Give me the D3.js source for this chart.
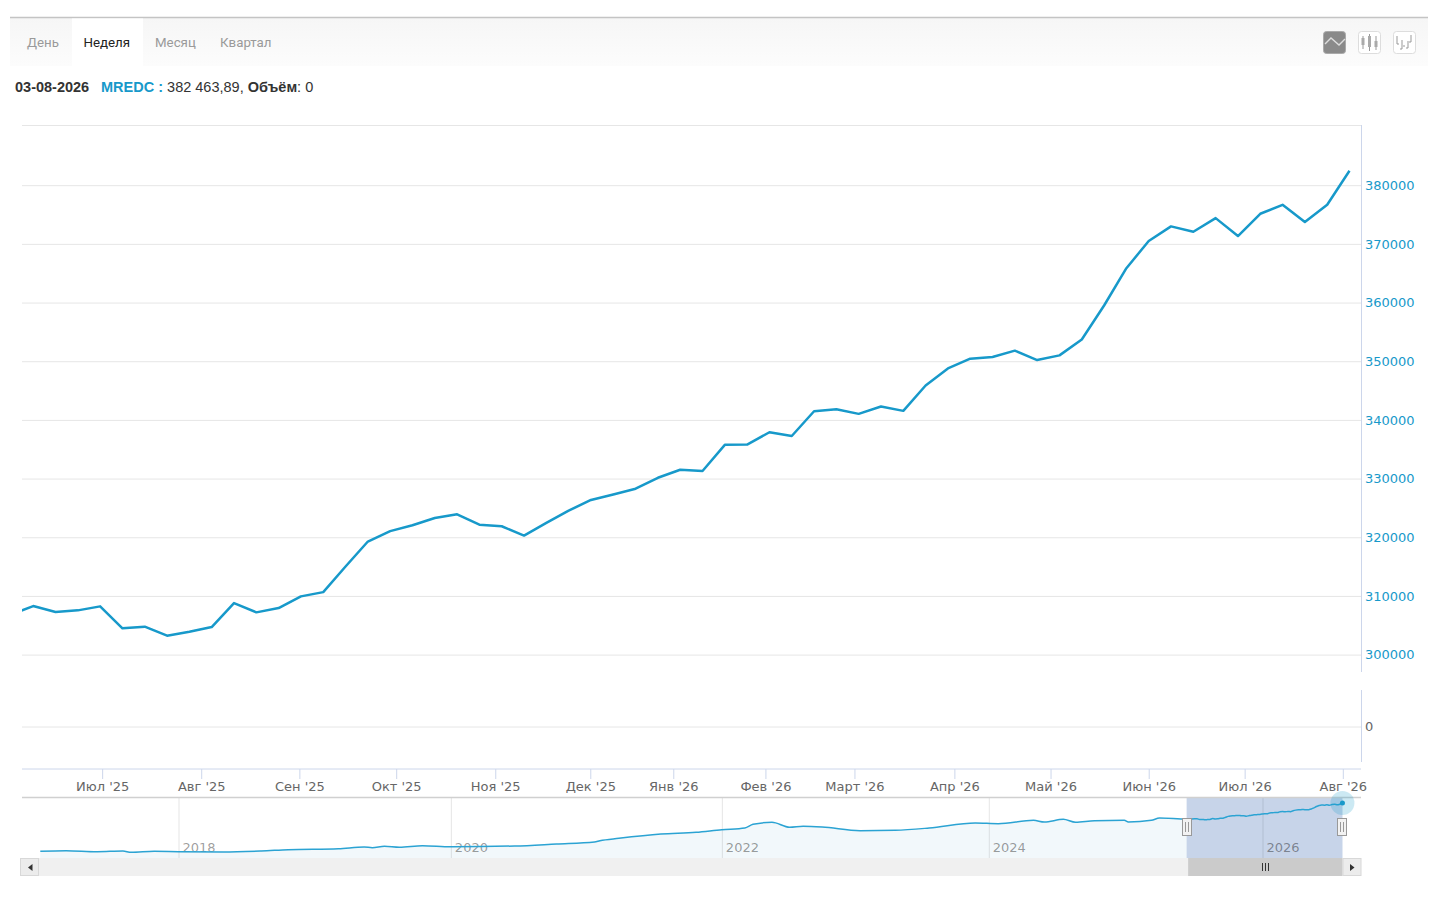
<!DOCTYPE html>
<html>
<head>
<meta charset="utf-8">
<script src="https://cdn.jsdelivr.net/npm/d3@7"></script>
<style>
  html, body { margin: 0; padding: 0; background: #fff; }
  svg { display: block; }
  .axis-text text { font-family: "DejaVu Sans", sans-serif; font-size: 13px; }
  .domain { display: none; }
</style>
</head>
<body>
<svg id="chart" width="1440" height="897"></svg>
<script>
// weekly closes, last point is 03-08-2026
const weeklyValues = [
  306800, 308270, 307250, 307540, 308220, 304480, 304760, 303230, 303910, 304700,
  308780, 307200, 307930, 309920, 310650, 315020, 319270, 321050, 322040, 323290,
  323910, 322150, 321870, 320280, 322440, 324530, 326350, 327300, 328270, 330140,
  331500, 331280, 335750, 335800, 337900, 337260, 341480, 341820, 341030, 342280,
  341540, 345870, 348780, 350430, 350720, 351800, 350200, 351000, 353700, 359500,
  365850, 370490, 372980, 372070, 374390, 371340, 375130, 376660, 373720, 376660,
  382463.89
];

const yTicks = [300000, 310000, 320000, 330000, 340000, 350000, 360000, 370000, 380000];
const volumeTicks = [0];

// month labels and where they sit, in weeks along the series
const monthLabels = ["Июл '25", "Авг '25", "Сен '25", "Окт '25", "Ноя '25", "Дек '25", "Янв '26",
  "Фев '26", "Март '26", "Апр '26", "Май '26", "Июн '26", "Июл '26", "Авг '26"];
const monthWeeks = [4.09, 8.53, 12.93, 17.27, 21.71, 25.97, 29.69, 33.82, 37.81, 42.29, 46.6, 51.0, 55.3, 59.7];

// navigator history before the selected window
const navYears = [2016.98, 2017.17, 2017.40, 2017.59, 2017.65, 2017.82, 2018.00, 2018.33, 2018.61, 2018.81,
  2019.18, 2019.37, 2019.43, 2019.52, 2019.63, 2019.80, 2020.01, 2020.48, 2020.79, 2021.07,
  2021.11, 2021.25, 2021.56, 2021.82, 2022.01, 2022.18, 2022.24, 2022.38, 2022.51, 2022.61,
  2022.75, 2023.03, 2023.29, 2023.54, 2023.88, 2024.05, 2024.31, 2024.39, 2024.53, 2024.62,
  2024.76, 2024.98, 2025.01, 2025.18, 2025.24];
const navValues = [154020, 156860, 152130, 155440, 149290, 154020, 152130, 150710, 155440, 161590,
  166320, 174360, 171050, 177670, 172940, 180510, 175780, 179090, 188550, 198010,
  204160, 215510, 235850, 243890, 256190, 264230, 281730, 291190, 267540, 272270,
  268960, 251460, 253350, 264230, 287880, 284570, 300650, 292610, 305380, 291190,
  298760, 300650, 292610, 300650, 311530];
const navYearLabels = ["2018", "2020", "2022", "2024", "2026"];
const navYearTicks = [2018, 2020.01, 2022.01, 2023.98, 2026];
const navSelection = [2025.44, 2026.59];

const tabs = ["День", "Неделя", "Месяц", "Квартал"];

const blue = "#1799ca";
const left = 22, right = 1361;

const svg = d3.select("#chart");
const defs = svg.append("defs");

const headGrad = defs.append("linearGradient").attr("id", "headGrad").attr("x1", 0).attr("x2", 0).attr("y1", 0).attr("y2", 1);
headGrad.append("stop").attr("offset", "0%").attr("stop-color", "#f6f6f6");
headGrad.append("stop").attr("offset", "100%").attr("stop-color", "#fcfcfc");

defs.append("clipPath").attr("id", "plotClip").append("rect")
  .attr("x", left).attr("y", 125).attr("width", right - left).attr("height", 560);

// header bar with tabs
svg.append("rect").attr("x", 10).attr("y", 18).attr("width", 1418).attr("height", 48).attr("fill", "url(#headGrad)");
svg.append("line").attr("x1", 10).attr("x2", 1428).attr("y1", 17.5).attr("y2", 17.5).attr("stroke", "#c4c4c4").attr("stroke-width", 1.4);
svg.append("rect").attr("x", 72).attr("y", 18.5).attr("width", 71).attr("height", 48).attr("fill", "#fff");

const tabX = [27, 83.5, 155, 220];
svg.selectAll(".tab").data(tabs).join("text")
  .attr("class", "tab")
  .attr("x", (d, i) => tabX[i])
  .attr("y", 47)
  .attr("font-family", "Roboto, sans-serif")
  .attr("font-size", 13.3)
  .attr("fill", d => d === "Неделя" ? "#222" : "#9a9a9a")
  .text(d => d);

// chart type buttons
const btns = [1323, 1358, 1393];
btns.forEach((bx, i) => {
  svg.append("rect").attr("x", bx + 0.5).attr("y", 31.5).attr("width", 22).attr("height", 22).attr("rx", 3)
    .attr("fill", i === 0 ? "#8a8a8a" : "#fff").attr("stroke", i === 0 ? "#aaa" : "#ddd");
});
svg.append("path").attr("d", "M1325 44 L1331 38 L1339 45 L1345 39").attr("fill", "none").attr("stroke", "#ddd").attr("stroke-width", 1.4);
[[1363, 36, 49, 38, 45], [1369.5, 34, 51, 36, 47], [1376, 36, 50, 41, 47]].forEach(c => {
  svg.append("line").attr("x1", c[0]).attr("x2", c[0]).attr("y1", c[1]).attr("y2", c[2]).attr("stroke", "#999");
  svg.append("rect").attr("x", c[0] - 1.5).attr("y", c[3]).attr("width", 3).attr("height", c[4] - c[3]).attr("fill", "#aaa");
});
svg.append("path").attr("d", "M1397 36 V44 H1399 M1402 40 V49 H1400 M1403 46 H1405 M1408 41 V48 H1406 M1411 35 V42 H1409")
  .attr("fill", "none").attr("stroke", "#999");

// info line
const info = svg.append("text").attr("x", 15).attr("y", 92)
  .attr("font-family", "'Liberation Sans', Arial, sans-serif").attr("font-size", 14.5).attr("fill", "#333");
info.append("tspan").attr("font-weight", "bold").text("03-08-2026");
info.append("tspan").attr("x", 101).attr("font-weight", "bold").attr("fill", blue).text("MREDC : ");
info.append("tspan").text("382 463,89, ");
info.append("tspan").attr("font-weight", "bold").text("Объём");
info.append("tspan").text(": 0");

// scales
const x = d3.scaleLinear().domain([0, weeklyValues.length - 1]).range([10.9, 1349.5]);
const y = d3.scaleLinear().domain([300000, 380000]).range([654.6, 185.2]);
const yVolume = d3.scaleLinear().domain([-1, 1]).range([763.5, 689.5]);

// top border of plot
svg.append("line").attr("x1", left).attr("x2", right).attr("y1", 125.5).attr("y2", 125.5).attr("stroke", "#e6e6e6");

// y axis with grid
const yAxis = svg.append("g").attr("class", "axis-text")
  .attr("transform", `translate(${right},0)`)
  .call(d3.axisRight(y).tickValues(yTicks).tickSize(-(right - left)).tickPadding(4).tickFormat(d3.format("d")));
yAxis.selectAll("line").attr("stroke", "#e6e6e6");
yAxis.selectAll("text").attr("fill", blue);

const volAxis = svg.append("g").attr("class", "axis-text")
  .attr("transform", `translate(${right},0)`)
  .call(d3.axisRight(yVolume).tickValues(volumeTicks).tickSize(-(right - left)).tickPadding(4).tickFormat(d3.format("d")));
volAxis.selectAll("line").attr("stroke", "#e6e6e6");
volAxis.selectAll("text").attr("fill", "#666");

// right side axis lines
svg.append("line").attr("x1", right + 0.5).attr("x2", right + 0.5).attr("y1", 125).attr("y2", 672).attr("stroke", "#ccd6eb");
svg.append("line").attr("x1", right + 0.5).attr("x2", right + 0.5).attr("y1", 690).attr("y2", 762).attr("stroke", "#ccd6eb");

// main line
const line = d3.line().x((d, i) => x(i)).y(d => y(d));
svg.append("path").datum(weeklyValues)
  .attr("clip-path", "url(#plotClip)")
  .attr("fill", "none").attr("stroke", blue).attr("stroke-width", 2.5).attr("stroke-linejoin", "round")
  .attr("d", line);

// x axis with month ticks
svg.append("line").attr("x1", left).attr("x2", right).attr("y1", 769).attr("y2", 769).attr("stroke", "#ccd6eb");
const xAxis = svg.append("g").attr("class", "axis-text")
  .attr("transform", "translate(0,769)")
  .call(d3.axisBottom(x).tickValues(monthWeeks).tickSize(10).tickPadding(3).tickFormat((d, i) => monthLabels[i]));
xAxis.selectAll("line").attr("stroke", "#ccd6eb");
xAxis.selectAll("text").attr("fill", "#666");

// navigator
const navTop = 798, navBottom = 858;
const navX = d3.scaleLinear().domain([2018, 2026]).range([178.5, 1262.5]);
const navY = d3.scaleLinear().domain([306800, 382463.89]).range([819, 803]);

// selected window is the same weekly series, one week apart in year units
const navSeries = navYears.map((yr, i) => [yr, navValues[i]])
  .concat(weeklyValues.map((v, i) => [navSelection[1] - (weeklyValues.length - 1 - i) * 7 / 365.25, v]));

svg.append("path").datum(navSeries)
  .attr("fill", "#f2f8fb")
  .attr("d", d3.area().curve(d3.curveMonotoneX).x(d => navX(d[0])).y0(navBottom).y1(d => navY(d[1])));

svg.append("rect")
  .attr("x", navX(navSelection[0])).attr("y", navTop)
  .attr("width", navX(navSelection[1]) - navX(navSelection[0])).attr("height", navBottom - navTop)
  .attr("fill", "#c7d4e9");

const navAxis = svg.append("g").attr("class", "axis-text")
  .attr("transform", `translate(0,${navBottom})`)
  .call(d3.axisBottom(navX).tickValues(navYearTicks).tickSize(-(navBottom - navTop)).tickFormat((d, i) => navYearLabels[i]));
navAxis.selectAll("line").attr("stroke", "#000").attr("stroke-opacity", 0.1);
navAxis.selectAll("text").attr("fill", "#000").attr("fill-opacity", 0.4)
  .attr("text-anchor", "start").attr("x", 3.5).attr("y", -6).attr("dy", 0);

svg.append("path").datum(navSeries)
  .attr("fill", "none").attr("stroke", "#2ba3d3").attr("stroke-width", 1.5)
  .attr("d", d3.line().curve(d3.curveMonotoneX).x(d => navX(d[0])).y(d => navY(d[1])));

svg.append("line").attr("x1", left).attr("x2", right).attr("y1", 797.5).attr("y2", 797.5).attr("stroke", "#d0d0d0").attr("stroke-width", 1.4);

// scrollbar
const sbTop = 858, sbH = 18;
svg.append("rect").attr("x", 20).attr("y", sbTop).attr("width", right - 20).attr("height", sbH).attr("fill", "#f0f0f0");
svg.append("rect").attr("x", navX(navSelection[0]) + 1.5).attr("y", sbTop).attr("width", navX(navSelection[1]) - navX(navSelection[0]) - 1.5).attr("height", sbH).attr("fill", "#cbcbcb");
[20.5, 1343].forEach(bx => {
  svg.append("rect").attr("x", bx).attr("y", sbTop + 0.5).attr("width", 18).attr("height", sbH - 1)
    .attr("fill", "#ececec").attr("stroke", "#d8d8d8");
});
svg.append("path").attr("d", "M32.5 864 L28 867.5 L32.5 871 Z").attr("fill", "#333");
svg.append("path").attr("d", "M1350 864 L1354.5 867.5 L1350 871 Z").attr("fill", "#333");
[1262, 1265, 1268].forEach(gx => {
  svg.append("line").attr("x1", gx + 0.5).attr("x2", gx + 0.5).attr("y1", 863).attr("y2", 871).attr("stroke", "#333");
});

// selection handles
navSelection.forEach(yr => {
  const hx = Math.round(navX(yr));
  svg.append("rect").attr("x", hx - 4.5).attr("y", 818.5).attr("width", 9).attr("height", 17)
    .attr("fill", "#f2f2f2").attr("stroke", "#999");
  [-1.5, 1.5].forEach(o => {
    svg.append("line").attr("x1", hx + o).attr("x2", hx + o).attr("y1", 822).attr("y2", 832).attr("stroke", "#999");
  });
});

// hover marker at the end of the navigator line
const last = navSeries[navSeries.length - 1];
svg.append("circle").attr("cx", navX(last[0])).attr("cy", navY(last[1])).attr("r", 12).attr("fill", blue).attr("fill-opacity", 0.22);
svg.append("circle").attr("cx", navX(last[0])).attr("cy", navY(last[1])).attr("r", 2.5).attr("fill", blue);
</script>
</body>
</html>
